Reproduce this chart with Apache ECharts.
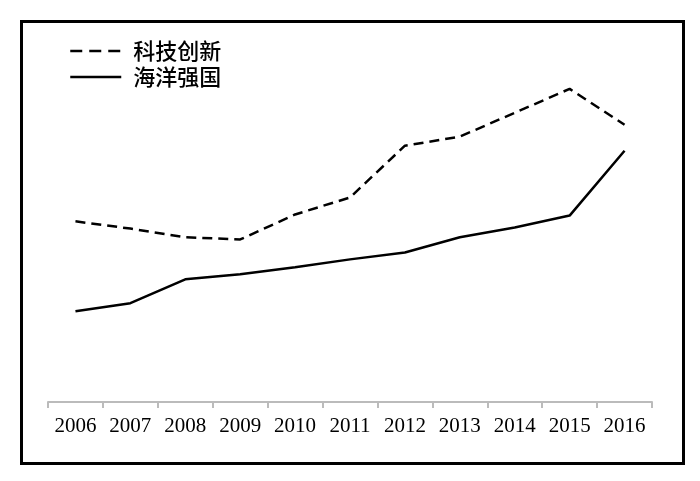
<!DOCTYPE html>
<html><head><meta charset="utf-8">
<script src="https://cdn.jsdelivr.net/npm/echarts@6/dist/echarts.min.js"></script>
<style>html,body{margin:0;padding:0;background:#fff}#c{width:700px;height:481px}</style>
</head><body><div id="c"></div>
<script>
const years = ['2006','2007','2008','2009','2010','2011','2012','2013','2014','2015','2016'];
const techInnovation = [49.9, 47.9, 45.5, 44.9, 51.8, 56.5, 70.8, 73.3, 79.9, 86.5, 76.6];
const maritimePower = [25.1, 27.3, 33.9, 35.3, 37.2, 39.4, 41.3, 45.5, 48.2, 51.5, 69.4];
const seriesNames = ['科技创新', '海洋强国'];

const chart = echarts.init(document.getElementById('c'));
chart.setOption({
  animation: false,
  backgroundColor: '#fff',
  graphic: [{
    type: 'rect', left: 19, top: 19,
    shape: { width: 662, height: 442 },
    style: { fill: 'none', stroke: '#000', lineWidth: 3 }
  }],
  grid: { left: 48, right: 48, top: 40, bottom: 79 },
  legend: {
    orient: 'vertical', left: 64, top: 35,
    itemWidth: 51, itemHeight: 14, itemGap: 4,
    itemStyle: { opacity: 0 },
    textStyle: { fontFamily: 'Noto Sans CJK SC', fontSize: 22, fontWeight: 500, color: '#000', lineHeight: 21, padding: [0, 0, 0, 7] },
    data: [
      { name: seriesNames[0], itemStyle: { opacity: 0 }, lineStyle: { type: [12, 7], width: 2.5, color: '#000' } },
      { name: seriesNames[1], itemStyle: { opacity: 0 }, lineStyle: { type: 'solid', width: 2.5, color: '#000' } }
    ]
  },
  xAxis: {
    type: 'category', data: years, boundaryGap: true,
    axisLine: { lineStyle: { color: '#bbb', width: 2 } },
    axisTick: { show: true, length: 6, lineStyle: { color: '#bbb', width: 2 } },
    axisLabel: { color: '#000', fontFamily: 'Liberation Serif', fontSize: 21, margin: 14 }
  },
  yAxis: { type: 'value', min: 0, max: 100, show: false, splitLine: { show: false } },
  series: [
    { name: seriesNames[0], type: 'line', data: techInnovation, symbol: 'none',
      lineStyle: { color: '#000', width: 2.5, type: [10, 6] }, itemStyle: { color: '#000' } },
    { name: seriesNames[1], type: 'line', data: maritimePower, symbol: 'none',
      lineStyle: { color: '#000', width: 2.5, type: 'solid' }, itemStyle: { color: '#000' } }
  ]
});
</script></body></html>
